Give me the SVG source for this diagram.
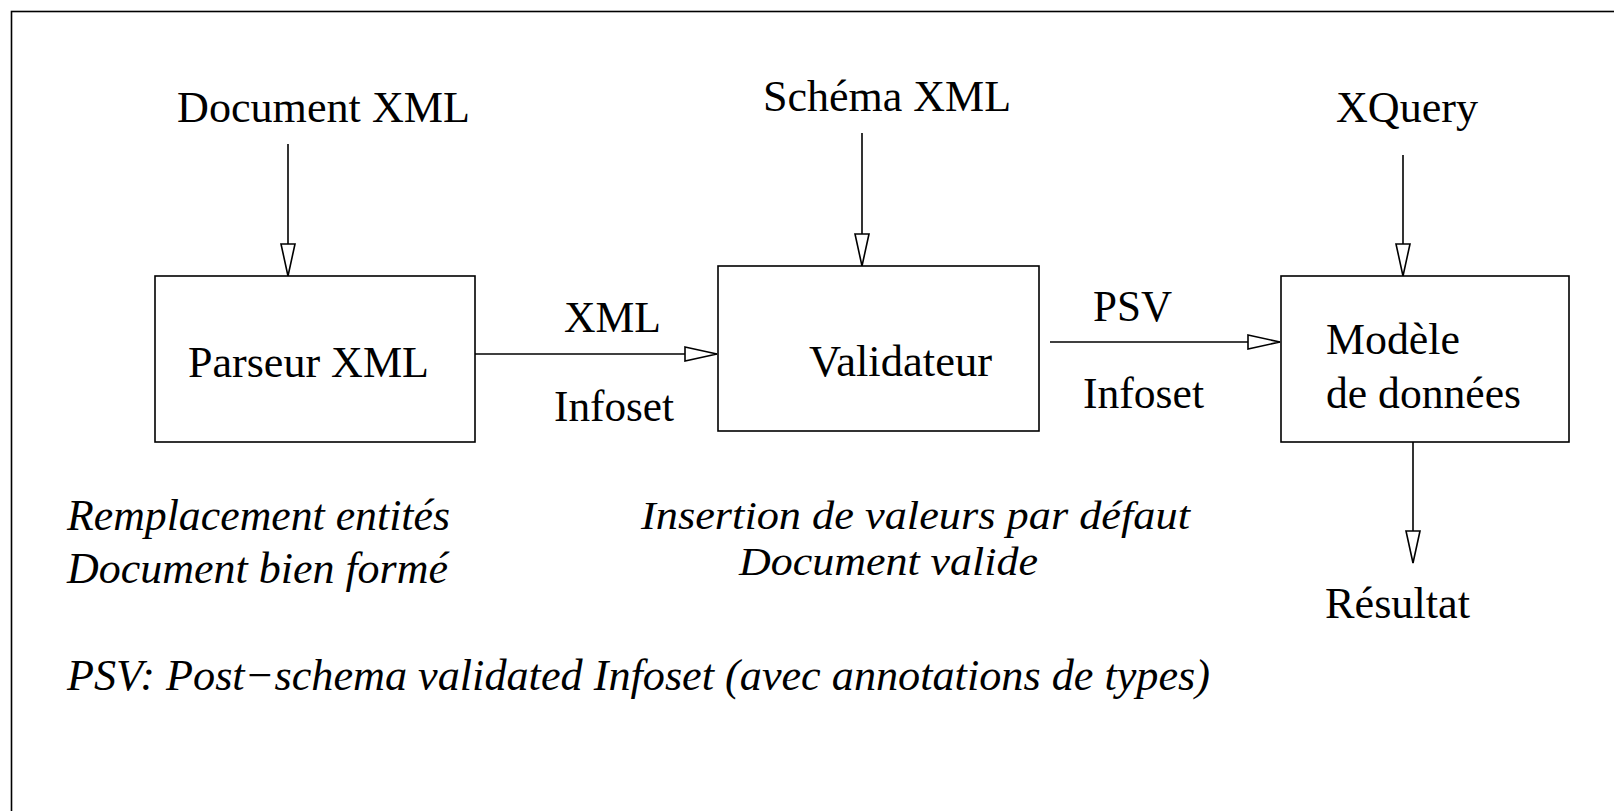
<svg xmlns="http://www.w3.org/2000/svg" width="1614" height="811" viewBox="0 0 1614 811">
<style>
.box{fill:#fff;stroke:#000;stroke-width:1.6}
.ln{fill:none;stroke:#000;stroke-width:1.6}
.t{font-family:"Liberation Serif","Times New Roman",serif;font-size:44px;fill:#000}
.i{font-family:"Liberation Serif","Times New Roman",serif;font-size:44px;font-style:italic;fill:#000}
.s{font-size:41px}
</style>
<defs>
<marker id="ah" viewBox="0 0 34 16" refX="33" refY="8" markerWidth="34" markerHeight="16" markerUnits="userSpaceOnUse" orient="auto">
<path d="M1,1 L33,8 L1,15 Z" fill="#fff" stroke="#000" stroke-width="1.6"/>
</marker>
</defs>
<rect x="11.5" y="11.5" width="1700" height="900" fill="none" stroke="#000" stroke-width="1.6"/>
<g id="connectors">
<line class="ln" x1="288" y1="144" x2="288" y2="276" marker-end="url(#ah)"/>
<line class="ln" x1="862" y1="133" x2="862" y2="266" marker-end="url(#ah)"/>
<line class="ln" x1="1403" y1="155" x2="1403" y2="276" marker-end="url(#ah)"/>
<line class="ln" x1="475" y1="354" x2="717" y2="354" marker-end="url(#ah)"/>
<line class="ln" x1="1050" y1="342" x2="1280" y2="342" marker-end="url(#ah)"/>
<line class="ln" x1="1413" y1="442" x2="1413" y2="563" marker-end="url(#ah)"/>
<text class="t" x="564" y="332" textLength="97" lengthAdjust="spacingAndGlyphs">XML</text>
<text class="t" x="554" y="421" textLength="120" lengthAdjust="spacingAndGlyphs">Infoset</text>
<text class="t" x="1093" y="321" textLength="79" lengthAdjust="spacingAndGlyphs">PSV</text>
<text class="t" x="1083" y="408" textLength="121" lengthAdjust="spacingAndGlyphs">Infoset</text>
</g>
<g id="doc"><text class="t" x="177" y="122" textLength="293" lengthAdjust="spacingAndGlyphs">Document XML</text></g>
<g id="schema"><text class="t" x="763" y="111" textLength="248" lengthAdjust="spacingAndGlyphs">Schéma XML</text></g>
<g id="xquery"><text class="t" x="1336" y="122" textLength="142" lengthAdjust="spacingAndGlyphs">XQuery</text></g>
<g id="parseur">
<rect class="box" x="155" y="276" width="320" height="166"/>
<text class="t" x="188" y="377" textLength="241" lengthAdjust="spacingAndGlyphs">Parseur XML</text>
</g>
<g id="validateur">
<rect class="box" x="718" y="266" width="321" height="165"/>
<text class="t" x="809" y="376" textLength="183" lengthAdjust="spacingAndGlyphs">Validateur</text>
</g>
<g id="modele">
<rect class="box" x="1281" y="276" width="288" height="166"/>
<text class="t" x="1326" y="354" textLength="134" lengthAdjust="spacingAndGlyphs">Modèle</text>
<text class="t" x="1326" y="408" textLength="195" lengthAdjust="spacingAndGlyphs">de données</text>
</g>
<g id="resultat"><text class="t" x="1325" y="618" textLength="145" lengthAdjust="spacingAndGlyphs">Résultat</text></g>
<g id="notes">
<text class="i" x="67" y="530" textLength="383" lengthAdjust="spacingAndGlyphs">Remplacement entités</text>
<text class="i" x="67" y="583" textLength="381" lengthAdjust="spacingAndGlyphs">Document bien formé</text>
<text class="i s" x="641" y="529" textLength="549" lengthAdjust="spacingAndGlyphs">Insertion de valeurs par défaut</text>
<text class="i s" x="739" y="575" textLength="299" lengthAdjust="spacingAndGlyphs">Document valide</text>
<text class="i" x="67" y="690" textLength="1143" lengthAdjust="spacingAndGlyphs">PSV: Post−schema validated Infoset (avec annotations de types)</text>
</g>
</svg>
